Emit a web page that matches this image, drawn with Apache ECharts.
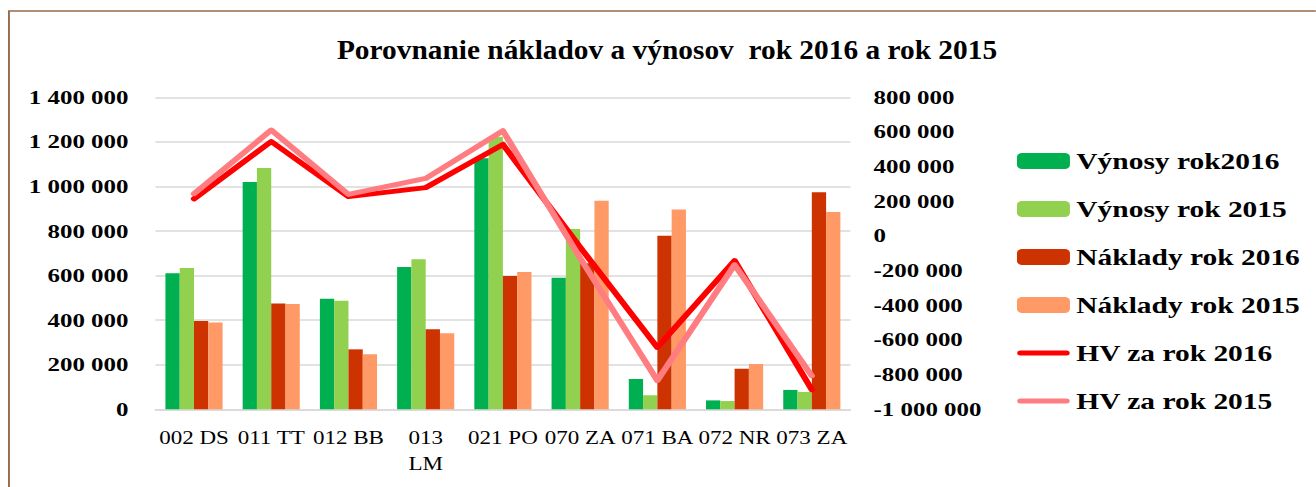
<!DOCTYPE html>
<html>
<head>
<meta charset="utf-8">
<script src="https://cdn.jsdelivr.net/npm/echarts@6/dist/echarts.min.js"></script>
<style>
  html, body { margin: 0; padding: 0; background: #ffffff; overflow: hidden; }
  /* the chart is laid out narrower and widened as a whole, giving the wide type of the axis and legend labels */
  #chart { width: 1028.125px; height: 487px; transform: scaleX(1.28); transform-origin: 0 0; }
</style>
</head>
<body>
<div id="chart"></div>
<script>
const STRETCH = 1.28;

// Cost centres (tick labels on the category axis)
const categories = ['002 DS', '011 TT', '012 BB', '013\nLM', '021 PO', '070 ZA', '071 BA', '072 NR', '073 ZA'];

// Revenues and costs (left axis)
const vynosy2016 = [610000, 1020000, 496000, 638000, 1126000, 590000, 136000, 40000, 87000];
const vynosy2015 = [634000, 1083000, 487000, 673000, 1223000, 809000, 63000, 37000, 78000];
const naklady2016 = [396000, 475000, 269000, 359000, 598000, 655000, 779000, 182000, 974000];
const naklady2015 = [390000, 472000, 247000, 341000, 616000, 936000, 897000, 203000, 885000];

// Economic result (right axis)
const hv2016 = [214000, 545000, 227000, 279000, 528000, -65000, -643000, -142000, -887000];
const hv2015 = [244000, 611000, 240000, 332000, 607000, -127000, -834000, -166000, -807000];

const seriesNames = ['Výnosy rok2016', 'Výnosy rok 2015', 'Náklady rok 2016', 'Náklady rok 2015', 'HV za rok 2016', 'HV za rok 2015'];
const titleText = 'Porovnanie nákladov a výnosov  rok 2016 a rok 2015';

const FONT = "'Liberation Serif', 'Times New Roman', serif";
const fmt = v => String(v).replace(/\B(?=(\d{3})+(?!\d))/g, ' ');

// rounded bar used as the legend icon of the two lines
const lineIcon = 'path://M0,0 M41,16 M2.5,5.5 L38.5,5.5 A2.5,2.5 0 0 1 38.5,10.5 L2.5,10.5 A2.5,2.5 0 0 1 2.5,5.5 Z';

const chart = echarts.init(document.getElementById('chart'), null, { renderer: 'svg' });

chart.setOption({
  backgroundColor: '#ffffff',
  animation: false,
  graphic: [{
    type: 'rect',
    shape: { x: 7, y: 11, width: 1100, height: 600 },
    style: { fill: 'none', stroke: '#9a6a4a', lineWidth: 1.5 },
    silent: true
  }, {
    // title is only slightly widened
    type: 'text',
    x: 667 / STRETCH,
    y: 49,
    scaleX: 1.05 / STRETCH,
    silent: true,
    style: {
      text: titleText,
      fill: '#000000',
      font: "bold 28px 'Liberation Serif', 'Times New Roman', serif",
      align: 'center',
      verticalAlign: 'middle'
    }
  }],
  legend: {
    orient: 'vertical',
    left: 794.5,
    top: 149.5,
    padding: 0,
    itemWidth: 41.4,
    itemHeight: 16,
    itemGap: 25,
    data: [
      { name: seriesNames[0] },
      { name: seriesNames[1] },
      { name: seriesNames[2] },
      { name: seriesNames[3] },
      { name: seriesNames[4], icon: lineIcon, itemStyle: { color: '#ff0000', borderWidth: 0 } },
      { name: seriesNames[5], icon: lineIcon, itemStyle: { color: '#ff7c80', borderWidth: 0 } }
    ],
    textStyle: { fontFamily: FONT, fontWeight: 'bold', fontSize: 23, color: '#000000' }
  },
  grid: { left: 121.4, right: 363.6, top: 97.3, bottom: 77.7, containLabel: false },
  xAxis: {
    type: 'category',
    data: categories,
    axisLine: { lineStyle: { color: '#d9d9d9', width: 1.5 } },
    axisTick: { show: false },
    axisLabel: {
      interval: 0,
      margin: 16,
      fontFamily: FONT,
      fontSize: 18,
      lineHeight: 26,
      color: '#000000'
    }
  },
  yAxis: [{
    type: 'value',
    min: 0,
    max: 1400000,
    interval: 200000,
    axisLine: { show: false },
    axisTick: { show: false },
    splitLine: { lineStyle: { color: '#d9d9d9', width: 1.5 } },
    axisLabel: { formatter: fmt, margin: 21, fontFamily: FONT, fontWeight: 'bold', fontSize: 19.5, color: '#000000' }
  }, {
    type: 'value',
    min: -1000000,
    max: 800000,
    interval: 200000,
    position: 'right',
    axisLine: { show: false },
    axisTick: { show: false },
    splitLine: { show: false },
    axisLabel: { formatter: fmt, margin: 18, fontFamily: FONT, fontWeight: 'bold', fontSize: 19.5, color: '#000000' }
  }],
  series: [
    { name: seriesNames[0], type: 'bar', data: vynosy2016, barGap: '0%', barCategoryGap: '26%', itemStyle: { color: '#00b050' } },
    { name: seriesNames[1], type: 'bar', data: vynosy2015, itemStyle: { color: '#92d050' } },
    { name: seriesNames[2], type: 'bar', data: naklady2016, itemStyle: { color: '#cc3300' } },
    { name: seriesNames[3], type: 'bar', data: naklady2015, itemStyle: { color: '#ff9966' } },
    { name: seriesNames[4], type: 'line', yAxisIndex: 1, data: hv2016, symbol: 'none',
      lineStyle: { color: '#ff0000', width: 5, cap: 'round', join: 'round' }, itemStyle: { color: '#ff0000' } },
    { name: seriesNames[5], type: 'line', yAxisIndex: 1, data: hv2015, symbol: 'none',
      lineStyle: { color: '#ff7c80', width: 5, cap: 'round', join: 'round' }, itemStyle: { color: '#ff7c80' } }
  ]
});
</script>
</body>
</html>
